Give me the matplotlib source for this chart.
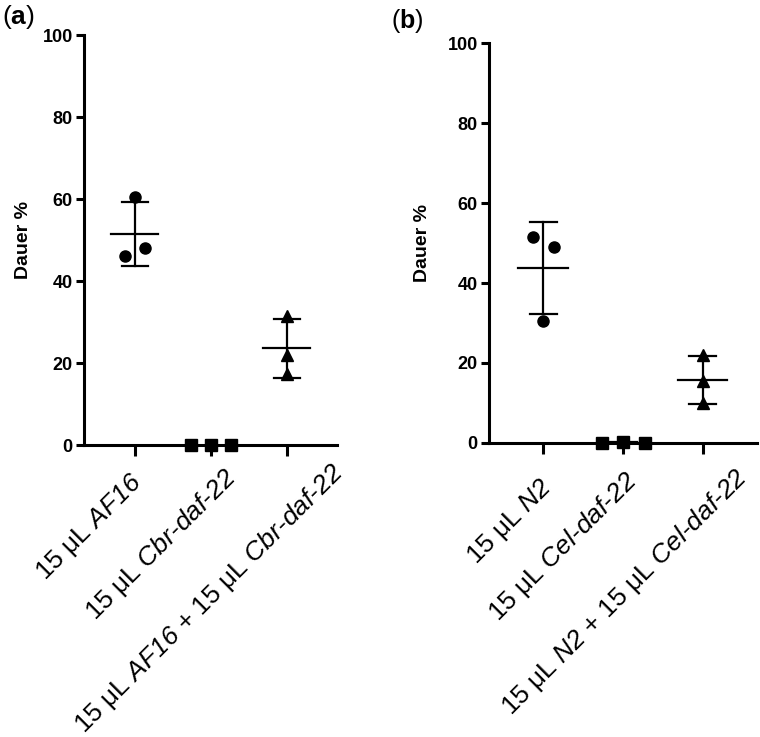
import numpy as np
import matplotlib
matplotlib.use("Agg")
import matplotlib.pyplot as plt
import matplotlib.transforms as mtransforms

plt.rcParams['font.family'] = ['Liberation Sans', 'DejaVu Sans']
plt.rcParams['mathtext.fontset'] = 'custom'
# digits inside \it go through 'rm', so make rm italic too
plt.rcParams['mathtext.rm'] = 'Liberation Sans:italic'
plt.rcParams['mathtext.it'] = 'Liberation Sans:italic'
plt.rcParams['mathtext.bf'] = 'Liberation Sans:bold'

# panel (a) C. briggsae
labels_a = [r'15 μL $\it{AF16}$',
            r'15 μL $\it{Cbr}$-$\it{daf}$-$\it{22}$',
            r'15 μL $\it{AF16}$ + 15 μL $\it{Cbr}$-$\it{daf}$-$\it{22}$']
af16 = [60.5, 46.0, 48.0]
cbr = [0.0, 0.0, 0.0]
af16_cbr = [31.5, 22.0, 17.3]

# panel (b) C. elegans
labels_b = [r'15 μL $\it{N2}$',
            r'15 μL $\it{Cel}$-$\it{daf}$-$\it{22}$',
            r'15 μL $\it{N2}$ + 15 μL $\it{Cel}$-$\it{daf}$-$\it{22}$']
n2 = [51.5, 49.0, 30.5]
cel = [0.0, 0.3, 0.0]
n2_cel = [22.0, 15.5, 10.0]

# horizontal scatter of the points within each column
jitter_circ_a = [0.0, -0.13, 0.13]
jitter_circ_b = [-0.13, 0.14, 0.0]
jitter_sq = [-0.26, 0.0, 0.27]
jitter_tri = [0.0, 0.0, 0.0]

fig = plt.figure(figsize=(7.6, 7.37), dpi=100)
ax_a = fig.add_axes([0.1105, 0.396, 0.333, 0.5565])
ax_b = fig.add_axes([0.6434, 0.399, 0.3526, 0.5425])


def draw_panel(ax, groups, jitters, markers, labels, xlim, shifts, ypad):
    for i, (vals, jit, m) in enumerate(zip(groups, jitters, markers)):
        xs = i + np.array(jit)
        ax.plot(xs, vals, ls='none', marker=m, color='black', ms=8,
                clip_on=False, zorder=3)
        mean = np.mean(vals)
        sd = np.std(vals, ddof=1)
        if sd > 0:
            ax.plot([i - 0.31, i + 0.31], [mean, mean], color='black', lw=1.6)
            ax.plot([i, i], [mean - sd, mean + sd], color='black', lw=1.6)
            for y in (mean - sd, mean + sd):
                ax.plot([i - 0.17, i + 0.17], [y, y], color='black', lw=1.6)
    ax.set_xlim(*xlim)
    ax.set_ylim(0, 100)
    ax.set_yticks([0, 20, 40, 60, 80, 100])
    ax.set_xticks([0, 1, 2])
    ax.set_xticklabels([])
    # rotated category labels, nudged like the original layout (pixels)
    base = ax.get_xaxis_transform()
    for i, (lab, (dx, dy)) in enumerate(zip(labels, shifts)):
        tr = base + mtransforms.ScaledTranslation(dx / 100, -dy / 100,
                                                  fig.dpi_scale_trans)
        ax.text(i, 0, lab, transform=tr, rotation=45, ha='right', va='top',
                rotation_mode='anchor', fontsize=19, clip_on=False)
    for s in ('top', 'right'):
        ax.spines[s].set_visible(False)
    for s in ('left', 'bottom'):
        ax.spines[s].set_linewidth(2.2)
    ax.tick_params(axis='y', length=6, width=2.2, labelsize=13, pad=2)
    ax.tick_params(axis='x', length=8, width=2.2, pad=6)
    for t in ax.get_yticklabels():
        t.set_fontweight('bold')
    ax.set_ylabel('Dauer %', fontsize=14, fontweight='bold', labelpad=ypad)


draw_panel(ax_a, [af16, cbr, af16_cbr],
           [jitter_circ_a, jitter_sq, jitter_tri], ['o', 's', '^'],
           labels_a, (-0.67, 2.66), [(-6, 24), (12, 19), (43, 13)], 8)
draw_panel(ax_b, [n2, cel, n2_cel],
           [jitter_circ_b, jitter_sq, jitter_tri], ['o', 's', '^'],
           labels_b, (-0.68, 2.68), [(-4, 31), (1, 24), (31, 21)], 12)

fig.text(0.003, 0.996, r'($\bf{a}$)', fontsize=19, va='top', ha='left')
fig.text(0.515, 0.99, r'($\bf{b}$)', fontsize=18, va='top', ha='left')

fig.savefig('out.png', dpi=100)
